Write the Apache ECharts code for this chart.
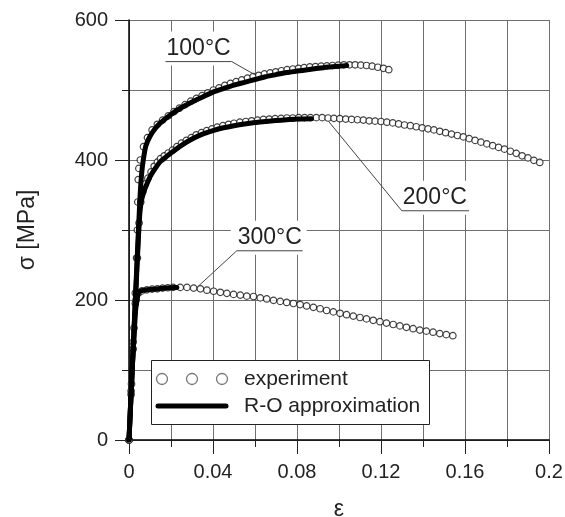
<!DOCTYPE html>
<html>
<head>
<meta charset="UTF-8">
<title>sigma-epsilon</title>
<script src="https://cdn.jsdelivr.net/npm/echarts@6/dist/echarts.min.js"></script>
<style>
  html, body { margin: 0; padding: 0; background: #fff; }
  #chart { width: 565px; height: 517px; }
</style>
</head>
<body>
<div id="chart"></div>
<script>
// experiment points [strain, stress MPa]
const exp100 = [
  [0, 0], [0.001, 70], [0.002, 140], [0.003, 210], [0.0036, 260], [0.004, 300], [0.0042, 340],
  [0.0044, 372], [0.0047, 388], [0.0054, 400], [0.0069, 419], [0.0088, 432], [0.011, 443],
  [0.0135, 451], [0.016, 457], [0.0187, 463], [0.0214, 469], [0.024, 474], [0.0267, 479],
  [0.0294, 484], [0.0321, 488], [0.0348, 492], [0.0375, 496], [0.0402, 500], [0.0429, 503],
  [0.0456, 506.5], [0.0483, 509.5], [0.051, 512], [0.0537, 514.5], [0.0564, 517], [0.0591, 519],
  [0.0618, 521], [0.0645, 523], [0.0672, 524.5], [0.0699, 526], [0.0726, 527.5], [0.0753, 529],
  [0.078, 530], [0.0807, 531], [0.0834, 532], [0.0861, 533], [0.0888, 533.5], [0.0915, 534],
  [0.0942, 534.5], [0.0969, 535], [0.0996, 535.5], [0.1023, 536], [0.105, 536], [0.1077, 536],
  [0.1104, 535.5], [0.1131, 535], [0.1158, 534], [0.1185, 532.5], [0.1212, 531], [0.1237, 529]
];
const exp200 = [
  [0, 0], [0.001, 65], [0.002, 130], [0.003, 195], [0.004, 260], [0.0048, 310], [0.0056, 340],
  [0.0066, 355], [0.0078, 366], [0.009, 374], [0.0105, 383], [0.012, 391], [0.0135, 397],
  [0.015, 402], [0.0168, 406], [0.0187, 410], [0.0207, 414], [0.0228, 419], [0.025, 424],
  [0.0273, 428], [0.0297, 432], [0.032, 436], [0.0345, 439], [0.037, 442], [0.0395, 444.5],
  [0.042, 447], [0.0447, 449], [0.0474, 451], [0.05, 452.5], [0.0528, 454], [0.0556, 455],
  [0.0584, 456], [0.0612, 457], [0.064, 458], [0.0668, 458.5], [0.0696, 459], [0.0724, 459.5],
  [0.0752, 460], [0.078, 460], [0.0808, 460.5], [0.0836, 460.5], [0.0864, 460.5], [0.0892, 460.5],
  [0.092, 460.5], [0.0948, 460], [0.0976, 459.5], [0.1004, 459], [0.1032, 458.5], [0.106, 458],
  [0.1088, 457.5], [0.1116, 457], [0.1144, 456], [0.1172, 455.5], [0.12, 455], [0.1228, 454],
  [0.1256, 453], [0.1284, 451.5], [0.1312, 450], [0.134, 449], [0.1368, 447.5], [0.1396, 446],
  [0.1424, 444.5], [0.1452, 443], [0.148, 441], [0.1508, 439], [0.1536, 437], [0.1564, 435],
  [0.1592, 433], [0.162, 430.5], [0.1648, 428], [0.1676, 425.5], [0.1704, 423], [0.1732, 420.5],
  [0.176, 418], [0.1788, 415.5], [0.1816, 412.5], [0.1844, 409.5], [0.1872, 406], [0.19, 403],
  [0.1928, 399.5], [0.1956, 396.5]
];
const exp300 = [
  [0, 0], [0.0012, 80], [0.0024, 160], [0.0034, 200], [0.0045, 210], [0.0062, 213], [0.0085, 214.5],
  [0.011, 215.5], [0.0135, 216], [0.016, 217], [0.0185, 217.5], [0.021, 218], [0.0244, 218],
  [0.0276, 218], [0.0308, 217], [0.034, 216], [0.0371, 214], [0.0403, 212.5], [0.0435, 211],
  [0.0466, 209.5], [0.0498, 208], [0.053, 207], [0.0561, 205.5], [0.0593, 205], [0.0625, 203],
  [0.0656, 201.5], [0.0688, 199.5], [0.072, 198], [0.0751, 196.5], [0.0783, 195], [0.0815, 193.5],
  [0.0846, 191.5], [0.0878, 189.5], [0.091, 187.5], [0.0941, 185], [0.0973, 183], [0.1005, 181],
  [0.1036, 179], [0.1068, 177], [0.11, 175], [0.1131, 173], [0.1163, 171], [0.1195, 169],
  [0.1226, 167], [0.1258, 165], [0.129, 163], [0.1321, 161], [0.1353, 159], [0.1385, 157],
  [0.1416, 155.5], [0.1448, 154], [0.148, 152], [0.1511, 150.5], [0.1542, 149]
];

// Ramberg-Osgood approximation curves
const ro100 = [
  [0, 0], [0.003, 200], [0.0045, 300], [0.0053, 350], [0.006, 380], [0.0068, 400], [0.008, 420],
  [0.01, 434], [0.0125, 445], [0.015, 453], [0.02, 465], [0.025, 475], [0.03, 483], [0.035, 490],
  [0.04, 497], [0.045, 502], [0.05, 507], [0.055, 511], [0.06, 515], [0.065, 519], [0.07, 522],
  [0.075, 525], [0.08, 527], [0.085, 529], [0.09, 531], [0.095, 533], [0.1, 534], [0.1037, 535]
];
const ro200 = [
  [0, 0], [0.003, 195], [0.0045, 290], [0.0052, 325], [0.006, 343], [0.007, 354], [0.008, 362],
  [0.01, 376], [0.0125, 388], [0.015, 398], [0.0175, 404], [0.02, 410], [0.025, 421], [0.03, 430],
  [0.035, 437], [0.04, 442], [0.045, 446], [0.05, 449], [0.055, 451.5], [0.06, 453.5],
  [0.065, 455], [0.07, 456.5], [0.075, 457.5], [0.08, 458.5], [0.0869, 459]
];
const ro300 = [
  [0, 0], [0.0015, 100], [0.003, 180], [0.0038, 200], [0.0045, 210], [0.0055, 213], [0.007, 214],
  [0.01, 215], [0.015, 216.5], [0.02, 217.5], [0.0228, 218]
];

const tempTexts = ['100°C', '200°C', '300°C'];
const legendTexts = ['experiment', 'R-O approximation'];

// label placement in data coords: underline from..to, leader from one end to a point on curve
const tempLabelPos = [
  { from: [0.0174, 540.6], to: [0.0489, 540.6], end: 'right', point: [0.0598, 522] },
  { from: [0.1299, 327.5], to: [0.1619, 327.5], end: 'left', point: [0.0951, 455] },
  { from: [0.0513, 270.3], to: [0.0827, 270.3], end: 'left', point: [0.0331, 220] }
];

const FONT = '"Liberation Sans", Arial, sans-serif';
const chart = echarts.init(document.getElementById('chart'));

function expSeries(data) {
  return {
    type: 'scatter', data: data, symbol: 'circle', symbolSize: 6.5, z: 3, silent: true,
    itemStyle: { color: '#fff', borderColor: '#111', borderWidth: 1.2 }
  };
}
function roSeries(data) {
  return {
    type: 'line', data: data, showSymbol: false, z: 4, silent: true, smooth: 0.2,
    lineStyle: { color: '#000', width: 5, cap: 'round', join: 'round' }
  };
}

const axisCommon = {
  type: 'value',
  nameLocation: 'middle',
  nameTextStyle: { fontFamily: FONT, fontSize: 23, color: '#222' },
  axisLine: { show: true, onZero: false, lineStyle: { color: '#000', width: 1.5 } },
  axisTick: { show: true, length: 14, lineStyle: { color: '#222', width: 1 } },
  minorTick: { show: true, splitNumber: 2, length: 7, lineStyle: { color: '#222', width: 1 } },
  splitLine: { show: true, lineStyle: { color: '#6f6f6f', width: 1 } },
  minorSplitLine: { show: true, lineStyle: { color: '#6f6f6f', width: 1 } }
};

chart.setOption({
  animation: false,
  backgroundColor: '#fff',
  grid: { left: 129, top: 20, width: 420, height: 420, outerBoundsMode: 'none', containLabel: false },
  xAxis: Object.assign({}, axisCommon, {
    min: 0, max: 0.2, interval: 0.04, name: 'ε', nameGap: 58,
    axisLabel: { fontFamily: FONT, fontSize: 20, color: '#222', margin: 22 }
  }),
  yAxis: Object.assign({}, axisCommon, {
    min: 0, max: 600, interval: 200, name: 'σ [MPa]', nameGap: 90,
    axisLabel: { fontFamily: FONT, fontSize: 20, color: '#222', margin: 21 }
  }),
  series: [
    expSeries(exp100), expSeries(exp200), expSeries(exp300),
    roSeries(ro100), roSeries(ro200), roSeries(ro300)
  ]
});

// annotations + legend
const px = p => chart.convertToPixel({ gridIndex: 0 }, p);
const graphics = [];
tempLabelPos.forEach((lp, i) => {
  const a = px(lp.from), b = px(lp.to), c = px(lp.point);
  const s = lp.end === 'right' ? b : a;
  graphics.push({
    type: 'rect', z: 50, silent: true,
    shape: { x: a[0] - 6, y: a[1] - 30, width: b[0] - a[0] + 10, height: 34 },
    style: { fill: '#fff' }
  });
  graphics.push({
    type: 'text', z: 52, silent: true, x: a[0] + 1, y: a[1] - 13,
    style: { text: tempTexts[i], fontFamily: FONT, fontSize: 23, fill: '#222', verticalAlign: 'middle' }
  });
  graphics.push({
    type: 'line', z: 51, silent: true,
    shape: { x1: a[0], y1: a[1], x2: b[0], y2: b[1] },
    style: { stroke: '#444', lineWidth: 1 }
  });
  graphics.push({
    type: 'line', z: 51, silent: true,
    shape: { x1: s[0], y1: s[1], x2: c[0], y2: c[1] },
    style: { stroke: '#444', lineWidth: 1 }
  });
});

// legend box
graphics.push({
  type: 'rect', z: 60, silent: true,
  shape: { x: 151.5, y: 360.5, width: 278, height: 64 },
  style: { fill: '#fff', stroke: '#222', lineWidth: 1 }
});
[162, 192, 222].forEach(cx => {
  graphics.push({
    type: 'circle', z: 61, silent: true,
    shape: { cx: cx, cy: 379, r: 5.5 },
    style: { fill: '#fff', stroke: '#777', lineWidth: 1.3 }
  });
});
graphics.push({
  type: 'line', z: 61, silent: true,
  shape: { x1: 158, y1: 406, x2: 226, y2: 406 },
  style: { stroke: '#000', lineWidth: 5, lineCap: 'round' }
});
legendTexts.forEach((t, i) => {
  graphics.push({
    type: 'text', z: 61, silent: true, x: 244, y: i === 0 ? 379 : 406,
    style: { text: t, fontFamily: FONT, fontSize: 21, fill: '#222', verticalAlign: 'middle' }
  });
});

chart.setOption({ graphic: graphics });
</script>
</body>
</html>
